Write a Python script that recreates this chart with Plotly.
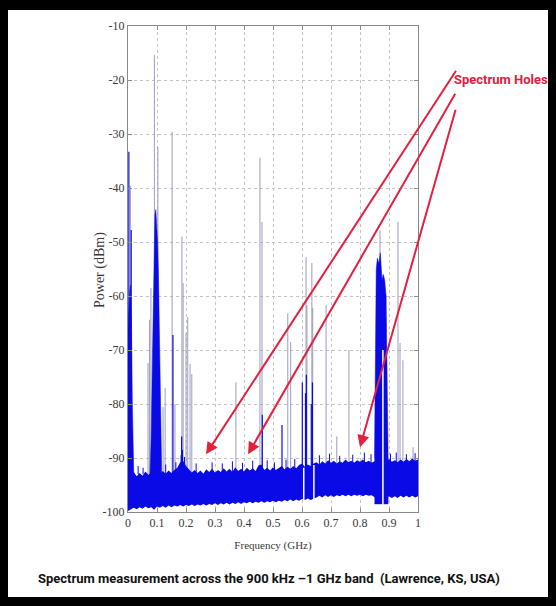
import plotly.graph_objects as go

# ---------------- data ----------------
floor_freq = [0.00, 0.01, 0.02, 0.03, 0.04, 0.05, 0.06, 0.07, 0.08, 0.09,
              0.10, 0.11, 0.12, 0.13, 0.14, 0.15, 0.16, 0.17, 0.18, 0.19,
              0.20, 0.21, 0.22, 0.23, 0.24, 0.25, 0.26, 0.27, 0.28, 0.29,
              0.30, 0.31, 0.32, 0.33, 0.34, 0.35, 0.36, 0.37, 0.38, 0.39,
              0.40, 0.41, 0.42, 0.43, 0.44, 0.45, 0.46, 0.47, 0.48, 0.49,
              0.50, 0.51, 0.52, 0.53, 0.54, 0.55, 0.56, 0.57, 0.58, 0.59,
              0.60, 0.61, 0.62, 0.63, 0.64, 0.65, 0.66, 0.67, 0.68, 0.69,
              0.70, 0.71, 0.72, 0.73, 0.74, 0.75, 0.76, 0.77, 0.78, 0.79,
              0.80, 0.81, 0.82, 0.83, 0.84, 0.85, 0.86, 0.87, 0.88, 0.89,
              0.90, 0.91, 0.92, 0.93, 0.94, 0.95, 0.96, 0.97, 0.98, 0.99, 1.00]

floor_upper = [-93.0, -93.0, -92.6, -93.4, -92.8, -93.3, -92.5, -93.1, -92.7, -92.9,
               -92.6, -93.0, -92.4, -92.9, -92.3, -92.8, -92.2, -91.8, -90.8, -90.5,
               -91.5, -92.1, -92.7, -92.2, -92.8, -92.3, -92.9, -92.1, -92.6, -92.0,
               -92.7, -92.2, -92.6, -91.9, -92.5, -92.0, -92.6, -91.7, -92.4, -92.0,
               -92.5, -91.8, -92.3, -91.9, -92.4, -91.4, -91.2, -92.2, -91.8, -92.3,
               -91.7, -92.2, -91.9, -91.5, -92.1, -91.6, -92.0, -91.5, -91.9, -91.3,
               -91.0, -91.6, -91.2, -91.5, -91.0, -90.8, -91.2, -90.6, -91.0, -90.4,
               -90.9, -90.5, -91.0, -90.6, -90.9, -90.3, -90.8, -90.5, -90.9, -90.4,
               -90.7, -90.3, -90.8, -90.5, -90.9, -90.6, -90.5, -90.5, -90.5, -90.7,
               -90.2, -90.7, -90.4, -90.8, -90.3, -90.7, -90.2, -90.6, -90.1, -90.5, -90.3]

floor_lower = [-99.8, -99.5, -99.2, -99.5, -99.1, -99.4, -99.0, -99.3, -99.1, -99.6,
               -99.0, -99.2, -98.9, -99.2, -98.8, -99.1, -98.8, -99.0, -98.7, -99.0,
               -98.7, -98.9, -98.6, -98.9, -98.6, -98.8, -98.5, -98.8, -98.5, -98.7,
               -98.4, -98.7, -98.4, -98.6, -98.3, -98.6, -98.3, -98.5, -98.2, -98.5,
               -98.2, -98.4, -98.1, -98.4, -98.1, -98.3, -98.0, -98.3, -98.0, -98.2,
               -97.9, -98.2, -97.9, -98.1, -97.8, -98.0, -97.7, -98.0, -97.7, -97.9,
               -97.6, -97.8, -97.5, -97.8, -97.5, -97.3, -97.0, -97.3, -96.9, -97.2,
               -96.9, -97.2, -96.9, -97.1, -96.8, -97.1, -96.8, -97.1, -96.8, -97.0,
               -96.8, -97.1, -96.8, -97.0, -96.9, -97.2, -97.6, -97.8, -97.7, -97.5,
               -97.1, -97.4, -97.1, -97.4, -97.0, -97.3, -97.0, -97.3, -97.0, -97.3, -97.1]

# dense blue occupied bands (upper envelope)
band0_freq  = [0.000, 0.003, 0.006, 0.009, 0.012, 0.015, 0.018, 0.022]
band0_upper = [-66.0, -62.0, -59.0, -58.0, -65.0, -80.0, -88.0, -93.0]

band1_freq  = [0.076, 0.080, 0.084, 0.087, 0.090, 0.093, 0.096, 0.099,
               0.102, 0.105, 0.108, 0.111, 0.114, 0.118]
band1_upper = [-93.0, -86.0, -72.0, -60.0, -51.0, -45.0, -44.0, -47.0,
               -50.0, -56.0, -66.0, -77.0, -86.0, -93.0]

band2_freq  = [0.850, 0.853, 0.856, 0.860, 0.865, 0.870, 0.873, 0.876,
               0.880, 0.885, 0.890, 0.894, 0.897]
band2_upper = [-90.0, -70.0, -55.0, -53.0, -54.0, -52.0, -56.0, -57.0,
               -56.0, -57.0, -60.0, -75.0, -90.0]

# narrow carriers: frequency (GHz), peak power (dBm)
grey_freq = [0.008, 0.069, 0.074, 0.079, 0.091, 0.103, 0.121, 0.128, 0.152, 0.162,
             0.186, 0.190, 0.200, 0.206, 0.214, 0.220, 0.372, 0.455, 0.462, 0.551,
             0.561, 0.614, 0.617, 0.634, 0.637, 0.683, 0.720, 0.762, 0.869, 0.931,
             0.938, 0.948, 0.983]
grey_peak = [-39.6, -72.4, -64.4, -58.5, -15.4, -32.4, -80.6, -77.0, -29.6, -80.0,
             -49.0, -57.6, -66.9, -63.9, -72.6, -74.5, -76.0, -34.4, -46.3, -63.2,
             -68.5, -52.8, -61.7, -53.9, -62.2, -61.7, -86.0, -70.0, -47.8, -46.3,
             -68.7, -71.9, -88.0]

blue_freq = [0.003, 0.011, 0.155, 0.185, 0.463, 0.531, 0.601, 0.612, 0.615, 0.632, 0.636]
blue_peak = [-33.3, -47.8, -67.2, -86.0, -82.0, -83.9, -76.0, -78.0, -74.6, -80.0, -76.0]

# small noise spikes above the floor
spike_freq = [0.035, 0.052, 0.130, 0.165, 0.183, 0.188, 0.195, 0.235, 0.290, 0.325,
              0.360, 0.395, 0.430, 0.480, 0.505, 0.545, 0.575, 0.660, 0.695, 0.730,
              0.775, 0.815, 0.838, 0.905, 0.925, 0.960, 0.990]
spike_top  = [-91.5, -91.8, -91.2, -90.8, -89.5, -88.5, -89.8, -91.0, -90.8, -91.0,
              -90.6, -90.9, -90.5, -90.4, -90.8, -90.3, -90.2, -89.5, -89.2, -89.6,
              -89.4, -89.0, -89.3, -89.2, -89.0, -89.3, -89.1]

# narrow gaps in the noise floor
gap_freq = [0.606, 0.641, 0.879]
gap_top  = [-91.8, -91.3, -70.0]

x_ticks = [0, 0.1, 0.2, 0.3, 0.4, 0.5, 0.6, 0.7, 0.8, 0.9, 1]
x_labels = ["0", "0.1", "0.2", "0.3", "0.4", "0.5", "0.6", "0.7", "0.8", "0.9", "1"]
y_ticks = [-10, -20, -30, -40, -50, -60, -70, -80, -90, -100]
y_labels = ["-10", "-20", "-30", "-40", "-50", "-60", "-70", "-80", "-90", "-100"]

# spectrum-hole arrow tips (GHz, dBm)
hole_freq = [0.269, 0.414, 0.800]
hole_pow  = [-89.3, -89.3, -88.0]

# ---------------- figure ----------------
# The page keeps its default 8 px body margin, so the figure is 8 px smaller
# and all positions below are given in page pixels.
OFF = 8
PAGE_W, PAGE_H = 556, 606
W, H = PAGE_W - OFF, PAGE_H - OFF
PLOT_L, PLOT_R, PLOT_T, PLOT_B = 128, 418, 26, 512
ML, MT = PLOT_L - OFF, PLOT_T - OFF
MR, MB = PAGE_W - PLOT_R, PAGE_H - PLOT_B
PW, PH = PLOT_R - PLOT_L, PLOT_B - PLOT_T

def px(xp):
    return (xp - PLOT_L) / PW

def py(yp):
    return (PLOT_B - yp) / PH

BLUE = "#0a0ae6"
GREY = "#9c9cc0"
RED = "#e3203d"

def vlines(xs, tops, base):
    lx, ly = [], []
    for f, p in zip(xs, tops):
        lx += [f, f, None]
        ly += [base, p, None]
    return lx, ly

fig = go.Figure()

gx, gy = vlines(grey_freq, grey_peak, -93.0)
fig.add_trace(go.Scatter(x=gx, y=gy, mode="lines",
                         line=dict(color=GREY, width=1), hoverinfo="skip"))

fig.add_trace(go.Scatter(x=floor_freq + floor_freq[::-1],
                         y=floor_upper + floor_lower[::-1],
                         fill="toself", fillcolor=BLUE, mode="lines",
                         line=dict(width=0, color=BLUE), hoverinfo="skip"))

for bf, bu in [(band0_freq, band0_upper), (band1_freq, band1_upper), (band2_freq, band2_upper)]:
    fig.add_trace(go.Scatter(x=bf + bf[::-1], y=bu + [-98.5] * len(bf),
                             fill="toself", fillcolor=BLUE, mode="lines",
                             line=dict(width=0.5, color=BLUE), hoverinfo="skip"))

sx, sy = vlines(spike_freq, spike_top, -93.0)
fig.add_trace(go.Scatter(x=sx, y=sy, mode="lines",
                         line=dict(color=BLUE, width=1), hoverinfo="skip"))

bx, by = vlines(blue_freq, blue_peak, -93.0)
fig.add_trace(go.Scatter(x=bx, y=by, mode="lines",
                         line=dict(color=BLUE, width=1.2), hoverinfo="skip"))

wx, wy = vlines(gap_freq, gap_top, -99.5)
fig.add_trace(go.Scatter(x=wx, y=wy, mode="lines",
                         line=dict(color="white", width=1.5), hoverinfo="skip"))

tick_font = dict(family="Liberation Serif, Times New Roman, serif", size=12, color="#3a3a3a")
axis_common = dict(showline=True, linecolor="#8a8a8a", linewidth=1, mirror="ticks",
                   ticks="inside", ticklen=4, tickcolor="#8a8a8a",
                   showgrid=True, gridcolor="#c4c4c4", gridwidth=1, griddash="dot",
                   zeroline=False, tickfont=tick_font)

fig.update_layout(
    width=W, height=H,
    margin=dict(l=ML, r=MR, t=MT, b=MB, pad=0),
    paper_bgcolor="black", plot_bgcolor="white",
    showlegend=False,
    xaxis=dict(range=[0, 1], tickvals=x_ticks, ticktext=x_labels,
               title=dict(text="Frequency (GHz)", standoff=11,
                          font=dict(family="Liberation Serif, serif", size=11, color="#3a3a3a")),
               **axis_common),
    yaxis=dict(range=[-100, -10], tickvals=y_ticks, ticktext=y_labels, **axis_common),
)

# white picture area inside the black frame (page pixels)
fig.add_shape(type="rect", xref="paper", yref="paper",
              x0=px(8), x1=px(549), y0=py(10), y1=py(597),
              fillcolor="white", line=dict(width=0), layer="below")

fig.add_annotation(x=px(100), y=py(270), xref="paper", yref="paper",
                   text="Power (dBm)", textangle=-90, showarrow=False,
                   xanchor="center", yanchor="middle",
                   font=dict(family="Liberation Serif, serif", size=14, color="#3a3a3a"))

tails = [(457, 69), (456, 92), (456, 108)]
heads_px = [(206, 454), (248, 454), (360, 447)]
for (f, p), (tx, ty), (hx, hy) in zip(zip(hole_freq, hole_pow), tails, heads_px):
    fig.add_annotation(x=f, y=p, xref="x", yref="y", text="", showarrow=True,
                       ax=tx - hx, ay=ty - hy, axref="pixel", ayref="pixel",
                       arrowhead=2, arrowsize=1.2, arrowwidth=2, arrowcolor=RED,
                       standoff=0, startstandoff=0)

fig.add_annotation(x=px(550), y=py(79), xref="paper", yref="paper",
                   text="Spectrum Holes", showarrow=False, xanchor="right", yanchor="middle",
                   font=dict(family="Roboto, Liberation Sans, sans-serif",
                             size=13, color=RED, weight="bold"))

fig.add_annotation(x=px(269), y=py(578), xref="paper", yref="paper",
                   text="Spectrum measurement across the 900 kHz \u20131 GHz band  (Lawrence, KS, USA)",
                   showarrow=False, xanchor="center", yanchor="middle",
                   font=dict(family="Roboto, Liberation Sans, sans-serif",
                             size=13, color="#111111", weight="bold"))

fig.write_html("out.html",
               config={"displayModeBar": False},
               post_script="document.body.style.background='black';"
                           "document.documentElement.style.background='black';")
